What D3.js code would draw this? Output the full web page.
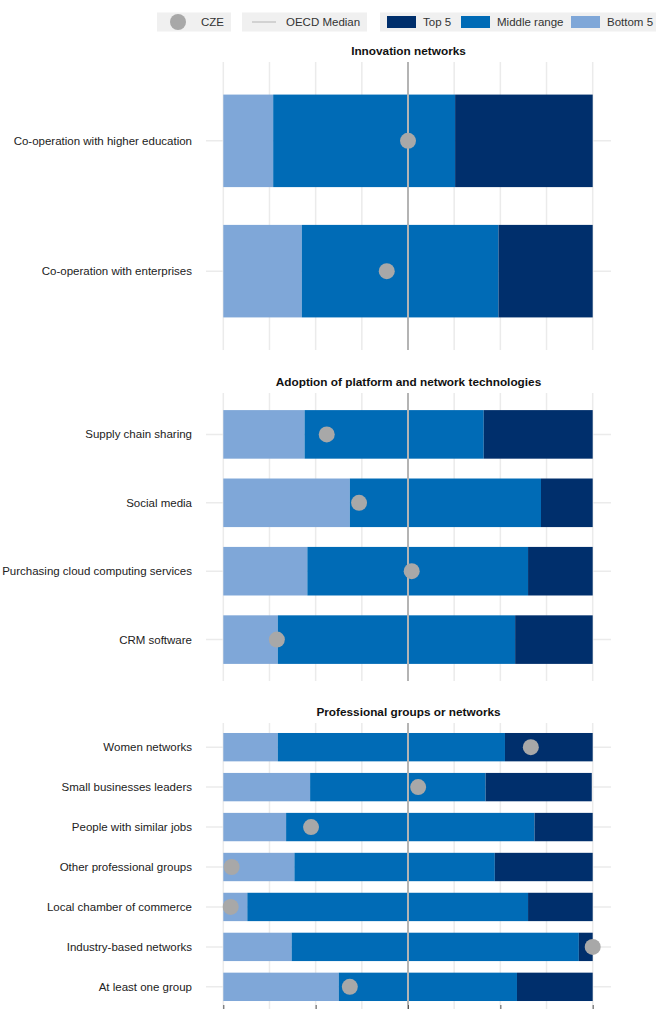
<!DOCTYPE html>
<html>
<head>
<meta charset="utf-8">
<script src="https://cdn.jsdelivr.net/npm/d3@7"></script>
<style>
  body { margin: 0; background: #fff; }
  svg text { font-family: "Liberation Sans", Arial, sans-serif; }
  .row-label { font-size: 11.5px; fill: #222; }
  .panel-title { font-size: 11.8px; font-weight: bold; fill: #111; }
  .legend-text { font-size: 11.5px; fill: #333; }
</style>
</head>
<body>
<div id="chart"></div>
<script>
// distance to OECD median, rescaled so that -1 = lowest country, 1 = highest
const innovationCats = ["Co-operation with higher education", "Co-operation with enterprises"];
const innovationBottom = [-0.73, -0.575];
const innovationMiddle = [0.255, 0.49];
const innovationTop = [1, 1];
const innovationCze = [0.0, -0.115];

const platformCats = ["Supply chain sharing", "Social media", "Purchasing cloud computing services", "CRM software"];
const platformBottom = [-0.56, -0.315, -0.545, -0.705];
const platformMiddle = [0.41, 0.72, 0.65, 0.58];
const platformTop = [1, 1, 1, 1];
const platformCze = [-0.44, -0.265, 0.02, -0.71];

const groupCats = ["Women networks", "Small businesses leaders", "People with similar jobs", "Other professional groups",
                   "Local chamber of commerce", "Industry-based networks", "At least one group"];
const groupBottom = [-0.705, -0.53, -0.66, -0.615, -0.87, -0.63, -0.375];
const groupMiddle = [0.525, 0.42, 0.685, 0.47, 0.65, 0.925, 0.59];
const groupTop = [1, 0.995, 1, 1, 1, 1, 1];
const groupCze = [0.665, 0.055, -0.525, -0.955, -0.96, 1.0, -0.315];

const panelTitles = ["Innovation networks", "Adoption of platform and network technologies", "Professional groups or networks"];
const gridTicks = [-1, -0.75, -0.5, -0.25, 0, 0.25, 0.5, 0.75, 1];
const axisTicks = [-1, -0.5, 0, 0.5, 1];

const colors = { bottom: "#7fa7d8", middle: "#006bb6", top: "#002f6c", cze: "#a8a8a8", median: "#b4b4b4", grid: "#ebebeb" };

const width = 656, height = 1009;
const panel = { left: 206, right: 611, height: 288, tops: [62, 393, 723] };

const svg = d3.select("#chart").append("svg")
    .attr("width", width)
    .attr("height", height);

// x scale: data range padded ~5% each side like the panel
const xInner = [223.3, 592.7];
const x = d3.scaleLinear().domain([-1, 1]).range(xInner);

function buildRows(cats, bottom, middle, top, cze){
    return cats.map((c, i) => ({ label: c, bottom: bottom[i], middle: middle[i], top: top[i], cze: cze[i] }));
}

const panels = [
    buildRows(innovationCats, innovationBottom, innovationMiddle, innovationTop, innovationCze),
    buildRows(platformCats, platformBottom, platformMiddle, platformTop, platformCze),
    buildRows(groupCats, groupBottom, groupMiddle, groupTop, groupCze)
];

panels.forEach((rows, p) => renderPanel(rows, p));
renderAxis();
renderLegend();

function renderPanel(rows, p){
    const top = panel.tops[p];
    const y = d3.scaleBand()
        .domain(rows.map(d => d.label))
        .range([top, top + panel.height])
        .paddingInner(0.29)
        .paddingOuter(0.25);

    const g = svg.append("g").attr("class", "panel");

    // vertical grid
    g.selectAll(".vgrid")
        .data(gridTicks)
        .enter()
        .append("line")
        .attr("x1", d => x(d)).attr("x2", d => x(d))
        .attr("y1", top).attr("y2", Math.min(top + panel.height, height))
        .attr("stroke", colors.grid)
        .attr("stroke-width", 1.5);

    // horizontal grid through row centres
    g.selectAll(".hgrid")
        .data(rows)
        .enter()
        .append("line")
        .attr("x1", panel.left).attr("x2", panel.right)
        .attr("y1", d => y(d.label) + y.bandwidth()/2)
        .attr("y2", d => y(d.label) + y.bandwidth()/2)
        .attr("stroke", colors.grid)
        .attr("stroke-width", 1.5);

    // stacked segments
    const segs = [];
    rows.forEach(d => {
        segs.push({ label: d.label, x0: -1, x1: d.bottom, fill: colors.bottom });
        segs.push({ label: d.label, x0: d.bottom, x1: d.middle, fill: colors.middle });
        segs.push({ label: d.label, x0: d.middle, x1: d.top, fill: colors.top });
    });
    g.selectAll(".seg")
        .data(segs)
        .enter()
        .append("rect")
        .attr("class", "seg")
        .attr("x", d => x(d.x0))
        .attr("width", d => x(d.x1) - x(d.x0))
        .attr("y", d => y(d.label))
        .attr("height", y.bandwidth())
        .attr("fill", d => d.fill);

    // OECD median
    g.append("line")
        .attr("x1", x(0)).attr("x2", x(0))
        .attr("y1", top).attr("y2", Math.min(top + panel.height, height))
        .attr("stroke", colors.median)
        .attr("stroke-width", 2);

    // CZE points
    g.selectAll(".cze")
        .data(rows)
        .enter()
        .append("circle")
        .attr("cx", d => x(d.cze))
        .attr("cy", d => y(d.label) + y.bandwidth()/2)
        .attr("r", 8)
        .attr("fill", colors.cze);

    // row labels
    g.selectAll(".row-label")
        .data(rows)
        .enter()
        .append("text")
        .attr("class", "row-label")
        .attr("x", 192)
        .attr("y", d => y(d.label) + y.bandwidth()/2)
        .attr("dy", "0.35em")
        .attr("text-anchor", "end")
        .text(d => d.label);

    svg.append("text")
        .attr("class", "panel-title")
        .attr("x", (panel.left + panel.right)/2)
        .attr("y", top - 11)
        .attr("dy", "0.35em")
        .attr("text-anchor", "middle")
        .text(panelTitles[p]);
}

// bottom axis: only the tick marks fall inside the picture
function renderAxis(){
    const axis = d3.axisBottom(x).tickValues(axisTicks).tickSize(4).tickFormat("");
    const ag = svg.append("g")
        .attr("transform", `translate(0,1005)`)
        .call(axis);
    ag.select(".domain").remove();
    ag.selectAll(".tick line").attr("stroke", "#555");
}

function renderLegend(){
    const lg = svg.append("g").attr("class", "legend");
    const boxY = 12.5, boxH = 19, midY = 22;

    lg.append("rect").attr("x", 157).attr("y", boxY).attr("width", 74).attr("height", boxH).attr("fill", "#f0f0f0");
    lg.append("circle").attr("cx", 178).attr("cy", midY).attr("r", 8).attr("fill", colors.cze);
    lg.append("text").attr("class", "legend-text").attr("x", 201).attr("y", midY).attr("dy", "0.35em").text("CZE");

    lg.append("rect").attr("x", 242).attr("y", boxY).attr("width", 125).attr("height", boxH).attr("fill", "#f0f0f0");
    lg.append("line").attr("x1", 252).attr("x2", 276).attr("y1", midY).attr("y2", midY)
        .attr("stroke", colors.median).attr("stroke-width", 1);
    lg.append("text").attr("class", "legend-text").attr("x", 286).attr("y", midY).attr("dy", "0.35em").text("OECD Median");

    lg.append("rect").attr("x", 380).attr("y", boxY).attr("width", 280).attr("height", boxH).attr("fill", "#f0f0f0");
    const keys = [
        { label: "Top 5", fill: colors.top, x: 387 },
        { label: "Middle range", fill: colors.middle, x: 461 },
        { label: "Bottom 5", fill: colors.bottom, x: 571 }
    ];
    lg.selectAll(".key")
        .data(keys)
        .enter()
        .append("g")
        .attr("transform", d => `translate(${d.x},${midY})`)
        .each(function(d){
            d3.select(this).append("rect")
                .attr("x", 0).attr("y", -6).attr("width", 29).attr("height", 12)
                .attr("fill", d.fill);
            d3.select(this).append("text")
                .attr("class", "legend-text")
                .attr("x", 36).attr("dy", "0.35em")
                .text(d.label);
        });
}
</script>
</body>
</html>
